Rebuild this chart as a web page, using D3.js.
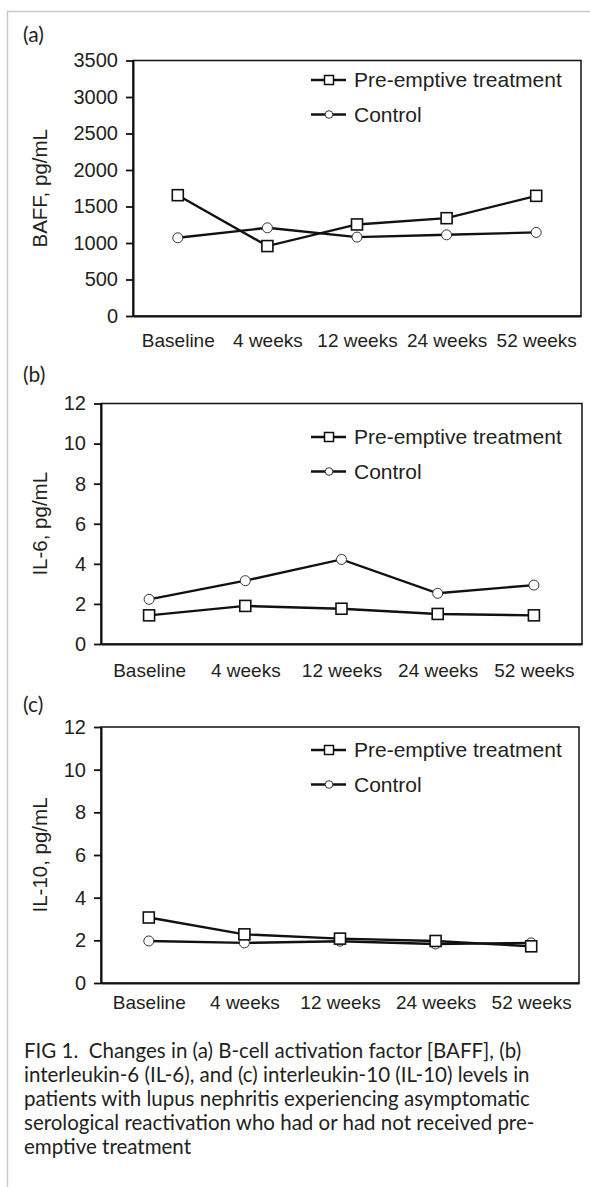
<!DOCTYPE html>
<html>
<head>
<meta charset="utf-8">
<script src="https://cdn.jsdelivr.net/npm/d3@7"></script>
<style>
  body { margin: 0; background: #fff; }
  svg text { fill: #231f20; }
</style>
</head>
<body>
<div id="chart"></div>
<script>
const categories = ["Baseline", "4 weeks", "12 weeks", "24 weeks", "52 weeks"];
const seriesNames = ["Pre-emptive treatment", "Control"];

const baffPre = [1655, 958, 1254, 1340, 1646];
const baffControl = [1071, 1208, 1081, 1112, 1145];
const il6Pre = [1.43, 1.9, 1.76, 1.5, 1.43];
const il6Control = [2.23, 3.16, 4.22, 2.53, 2.94];
const il10Pre = [3.07, 2.28, 2.08, 1.97, 1.72];
const il10Control = [1.97, 1.88, 1.96, 1.83, 1.88];

const baffTicks = [0, 500, 1000, 1500, 2000, 2500, 3000, 3500];
const ilTicks = [0, 2, 4, 6, 8, 10, 12];

const captionLines = [
  "FIG 1.  Changes in (a) B-cell activation factor [BAFF], (b)",
  "interleukin-6 (IL-6), and (c) interleukin-10 (IL-10) levels in",
  "patients with lupus nephritis experiencing asymptomatic",
  "serological reactivation who had or had not received pre-",
  "emptive treatment"
];

const svg = d3.select("#chart")
  .append("svg")
  .attr("width", 590)
  .attr("height", 1187);

// light frame, top and left
svg.append("path")
  .attr("d", "M7.5,1187 V11.5 H590")
  .attr("fill", "none")
  .attr("stroke", "#c9c9c9")
  .attr("stroke-width", 1.5);

const panels = [
  { tag: "(a)", title: "BAFF, pg/mL", pre: baffPre, ctl: baffControl, ticks: baffTicks,
    left: 133, right: 581, top: 60.5, bottom: 316, labelY: 340, tagY: 35, legendY: 80 },
  { tag: "(b)", title: "IL-6, pg/mL", pre: il6Pre, ctl: il6Control, ticks: ilTicks,
    left: 101, right: 582, top: 403.5, bottom: 644, labelY: 670, tagY: 375, legendY: 437 },
  { tag: "(c)", title: "IL-10, pg/mL", pre: il10Pre, ctl: il10Control, ticks: ilTicks,
    left: 101, right: 579, top: 727, bottom: 983, labelY: 1002, tagY: 705, legendY: 750 }
];

panels.forEach(p => {
  const g = svg.append("g");

  const x = d3.scalePoint().domain(categories).range([p.left, p.right]).padding(0.5);
  const y = d3.scaleLinear().domain([0, d3.max(p.ticks)]).range([p.bottom, p.top]);

  // plot box
  g.append("rect")
    .attr("x", p.left).attr("y", p.top)
    .attr("width", p.right - p.left).attr("height", p.bottom - p.top)
    .attr("fill", "none").attr("stroke", "#111").attr("stroke-width", 1.5);

  const yAxis = g.append("g")
    .attr("transform", `translate(${p.left},0)`)
    .call(d3.axisLeft(y).tickValues(p.ticks).tickFormat(d3.format("d"))
      .tickSize(7).tickPadding(8).tickSizeOuter(0));
  yAxis.select(".domain").attr("stroke", "#111").attr("stroke-width", 2);
  yAxis.selectAll(".tick line").attr("stroke", "#111").attr("stroke-width", 1.8);
  yAxis.selectAll(".tick text")
    .attr("font-family", "Liberation Sans, Arial, sans-serif")
    .attr("font-size", 20)
    .style("fill", "#231f20");

  const xAxis = g.append("g")
    .attr("transform", `translate(0,${p.bottom})`)
    .call(d3.axisBottom(x).tickSize(0).tickSizeOuter(0).tickPadding(0));
  xAxis.select(".domain").attr("stroke", "#111").attr("stroke-width", 2);
  xAxis.selectAll(".tick text")
    .attr("y", p.labelY - p.bottom)
    .attr("dy", "0.35em")
    .attr("font-family", "Liberation Sans, Arial, sans-serif")
    .attr("font-size", 19)
    .style("fill", "#231f20");

  // panel tag
  g.append("text")
    .attr("x", 23).attr("y", p.tagY).attr("dy", "0.35em")
    .attr("font-family", "Lato, sans-serif")
    .attr("font-size", 21)
    .text(p.tag);

  // y title
  g.append("text")
    .attr("transform", `translate(40,${(p.top + p.bottom) / 2}) rotate(-90)`)
    .attr("text-anchor", "middle")
    .attr("dy", "0.35em")
    .attr("font-family", "Liberation Sans, Arial, sans-serif")
    .attr("font-size", 20.5)
    .text(p.title);

  const line = d3.line().x((d, i) => x(categories[i])).y(d => y(d));

  [p.ctl, p.pre].forEach(vals => {
    g.append("path")
      .datum(vals)
      .attr("d", line)
      .attr("fill", "none")
      .attr("stroke", "#111")
      .attr("stroke-width", 2.4);
  });

  g.selectAll(".ctl")
    .data(p.ctl)
    .enter().append("circle")
    .attr("cx", (d, i) => x(categories[i]))
    .attr("cy", d => y(d))
    .attr("r", 5)
    .attr("fill", "#fff")
    .attr("stroke", "#333")
    .attr("stroke-width", 1);

  g.selectAll(".pre")
    .data(p.pre)
    .enter().append("rect")
    .attr("x", (d, i) => x(categories[i]) - 5.5)
    .attr("y", d => y(d) - 5.5)
    .attr("width", 11)
    .attr("height", 11)
    .attr("fill", "#fff")
    .attr("stroke", "#111")
    .attr("stroke-width", 1.6);

  // legend
  seriesNames.forEach((name, i) => {
    const ly = p.legendY + i * 34.5;
    g.append("line")
      .attr("x1", 311).attr("x2", 346)
      .attr("y1", ly).attr("y2", ly)
      .attr("stroke", "#111").attr("stroke-width", 2.4);
    if (i === 0) {
      g.append("rect")
        .attr("x", 329 - 4.5).attr("y", ly - 4.5)
        .attr("width", 9).attr("height", 9)
        .attr("fill", "#fff").attr("stroke", "#111").attr("stroke-width", 1.5);
    } else {
      g.append("circle")
        .attr("cx", 329).attr("cy", ly).attr("r", 3.8)
        .attr("fill", "#fff").attr("stroke", "#333").attr("stroke-width", 1);
    }
    g.append("text")
      .attr("x", 354).attr("y", ly).attr("dy", "0.35em")
      .attr("font-family", "Liberation Sans, Arial, sans-serif")
      .attr("font-size", 21)
      .text(name);
  });
});

// caption
svg.append("g").selectAll("text")
  .data(captionLines)
  .enter().append("text")
  .attr("x", 24)
  .attr("y", (d, i) => 1051 + i * 24)
  .attr("dy", "0.35em")
  .attr("font-family", "Lato, sans-serif")
  .attr("font-size", 20.5)
  .attr("xml:space", "preserve")
  .style("white-space", "pre")
  .text(d => d);
</script>
</body>
</html>
